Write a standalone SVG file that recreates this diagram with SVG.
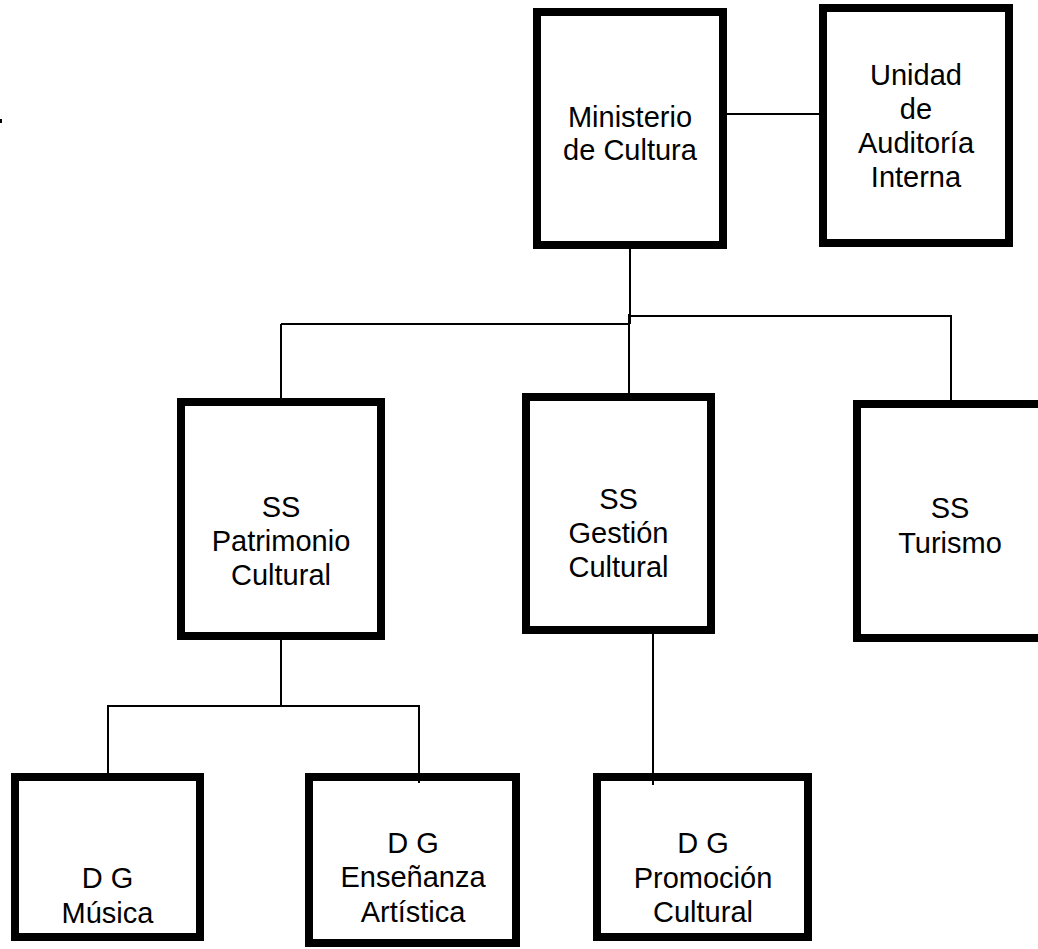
<svg xmlns="http://www.w3.org/2000/svg" width="1038" height="949" viewBox="0 0 1038 949">
<style>
.box{fill:#fff;stroke:#000;stroke-width:8}
.ln{fill:none;stroke:#000;stroke-width:2}
text{font-family:"Liberation Sans",Arial,sans-serif;font-size:29px;fill:#000;text-anchor:middle}
</style>
<rect x="0" y="0" width="1038" height="949" fill="#fff"/>
<rect x="0" y="119" width="2" height="4" fill="#000"/>
<g id="ministerio">
<rect class="box" x="537" y="12" width="186" height="233"/>
<text x="630" y="127">Ministerio</text>
<text x="630" y="160">de Cultura</text>
</g>
<g id="unidad">
<rect class="box" x="823" y="8" width="186" height="235"/>
<text x="916" y="85">Unidad</text>
<text x="916" y="119">de</text>
<text x="916" y="153">Auditoría</text>
<text x="916" y="187">Interna</text>
</g>
<g id="ss-patrimonio">
<rect class="box" x="181" y="402" width="200" height="234"/>
<text x="281" y="517">SS</text>
<text x="281" y="551">Patrimonio</text>
<text x="281" y="585">Cultural</text>
</g>
<g id="ss-gestion">
<rect class="box" x="526" y="397" width="185" height="233"/>
<text x="618.5" y="509">SS</text>
<text x="618.5" y="543">Gestión</text>
<text x="618.5" y="577">Cultural</text>
</g>
<g id="ss-turismo">
<rect class="box" x="857" y="404" width="186" height="234"/>
<text x="950" y="518">SS</text>
<text x="950" y="553">Turismo</text>
</g>
<g id="dg-musica">
<rect class="box" x="15" y="777" width="185" height="160"/>
<text x="107.5" y="888">D G</text>
<text x="107.5" y="923">Música</text>
</g>
<g id="dg-ensenanza">
<rect class="box" x="309" y="777" width="207" height="166"/>
<text x="413" y="853">D G</text>
<text x="413" y="887">Enseñanza</text>
<text x="413" y="922">Artística</text>
</g>
<g id="dg-promocion">
<rect class="box" x="597" y="777" width="211" height="160"/>
<text x="703" y="853">D G</text>
<text x="703" y="888">Promoción</text>
<text x="703" y="922">Cultural</text>
</g>
<g id="connectors">
<line class="ln" x1="727" y1="114" x2="819" y2="114"/>
<line class="ln" x1="630" y1="249" x2="630" y2="324"/>
<line class="ln" x1="281" y1="324" x2="630" y2="324"/>
<polyline class="ln" points="629,316 951,316 951,401"/>
<line class="ln" x1="629" y1="314" x2="629" y2="401"/>
<line class="ln" x1="281" y1="324" x2="281" y2="398"/>
<line class="ln" x1="281" y1="640" x2="281" y2="706"/>
<polyline class="ln" points="108,773 108,706 419,706 419,783"/>
<line class="ln" x1="653" y1="634" x2="653" y2="785"/>
</g>
</svg>
